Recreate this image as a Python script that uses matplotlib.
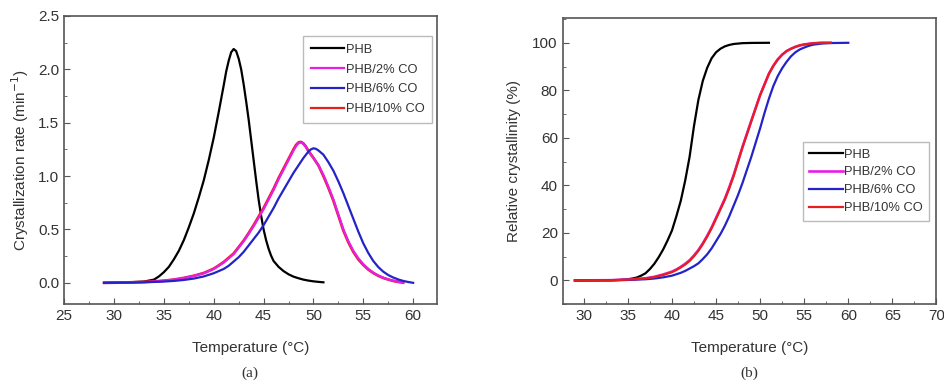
import matplotlib
matplotlib.use("Agg")
import matplotlib.pyplot as plt
from matplotlib.ticker import MultipleLocator

plt.rcParams['font.family'] = ['Liberation Sans', 'DejaVu Sans']

labels = ['PHB', 'PHB/2% CO', 'PHB/6% CO', 'PHB/10% CO']
colors = ['black', '#e61ee6', '#2323c8', '#e61e1e']

# (a) crystallization rate vs temperature
t_phb = [29, 31, 33, 34, 34.5, 35, 35.5, 36, 36.5, 37, 37.5, 38, 38.5, 39, 39.5, 40, 40.5, 41,
         41.25, 41.5, 41.75, 42, 42.25, 42.5, 42.75, 43, 43.25, 43.5, 43.75, 44, 44.25, 44.5,
         44.75, 45, 45.25, 45.5, 45.75, 46, 46.5, 47, 47.5, 48, 48.5, 49, 49.5, 50, 50.5, 51]
r_phb = [0, 0.003, 0.012, 0.03, 0.06, 0.1, 0.15, 0.22, 0.3, 0.4, 0.52, 0.65, 0.8, 0.96, 1.15, 1.36, 1.6, 1.85,
         1.98, 2.08, 2.16, 2.19, 2.17, 2.1, 2.0, 1.86, 1.7, 1.53, 1.34, 1.15, 0.96, 0.78,
         0.63, 0.5, 0.4, 0.32, 0.255, 0.205, 0.15, 0.11, 0.08, 0.058, 0.043, 0.03, 0.021, 0.014, 0.009, 0.005]

t_co2 = [29, 31, 33, 34, 35, 36, 37, 38, 39, 39.5, 40, 40.5, 41, 41.5, 42, 42.5, 43, 43.5, 44, 44.5,
         45, 45.5, 46, 46.5, 47, 47.5, 48, 48.25, 48.5, 48.75, 49, 49.25, 49.5, 50, 50.5, 51, 51.5,
         52, 52.5, 53, 53.5, 54, 54.5, 55, 55.5, 56, 56.5, 57, 57.5, 58, 58.5, 59]
r_co2 = [0, 0.003, 0.008, 0.012, 0.02, 0.03, 0.045, 0.065, 0.09, 0.11, 0.13, 0.16, 0.19, 0.23, 0.27, 0.33, 0.39, 0.46, 0.53, 0.61,
         0.69, 0.78, 0.87, 0.97, 1.06, 1.15, 1.24, 1.28, 1.31, 1.315, 1.3, 1.27, 1.23, 1.17, 1.1, 1.01, 0.9,
         0.78, 0.64, 0.5, 0.39, 0.3, 0.23, 0.175, 0.13, 0.095, 0.068, 0.048, 0.032, 0.02, 0.01, 0.003]

t_co6 = [29, 31, 33, 35, 36, 37, 38, 39, 40, 40.5, 41, 41.5, 42, 42.5, 43, 43.5, 44, 44.5, 45, 45.5,
         46, 46.5, 47, 47.5, 48, 48.5, 49, 49.5, 49.75, 50, 50.25, 50.5, 51, 51.5, 52, 52.5, 53, 53.5,
         54, 54.5, 55, 55.5, 56, 56.5, 57, 57.5, 58, 58.5, 59, 59.5, 60]
r_co6 = [0, 0.002, 0.005, 0.012, 0.018, 0.027, 0.04, 0.06, 0.09, 0.11, 0.13, 0.16, 0.2, 0.24, 0.29, 0.35, 0.41, 0.47, 0.54, 0.62,
         0.7, 0.79, 0.87, 0.95, 1.03, 1.1, 1.17, 1.23, 1.25, 1.26, 1.255, 1.24, 1.2, 1.13, 1.05, 0.95, 0.84, 0.72,
         0.6, 0.48, 0.37, 0.28, 0.205, 0.148, 0.105, 0.073, 0.05, 0.032, 0.018, 0.008, 0.0]

t_co10 = [29, 31, 33, 34, 35, 36, 37, 38, 39, 39.5, 40, 40.5, 41, 41.5, 42, 42.5, 43, 43.5, 44, 44.5,
          45, 45.5, 46, 46.5, 47, 47.5, 48, 48.25, 48.5, 48.75, 49, 49.25, 49.5, 50, 50.5, 51, 51.5,
          52, 52.5, 53, 53.5, 54, 54.5, 55, 55.5, 56, 56.5, 57, 57.5, 58, 58.5, 59]
r_co10 = [0, 0.003, 0.008, 0.013, 0.02, 0.03, 0.046, 0.066, 0.092, 0.112, 0.133, 0.163, 0.195, 0.235, 0.275, 0.335, 0.395, 0.465, 0.54, 0.62,
          0.7, 0.79, 0.88, 0.98, 1.07, 1.16, 1.25, 1.29, 1.315, 1.32, 1.305, 1.275, 1.235, 1.17, 1.1, 1.0, 0.89,
          0.77, 0.63, 0.49, 0.38, 0.29, 0.22, 0.168, 0.125, 0.092, 0.066, 0.046, 0.031, 0.018, 0.009, 0.002]

# (b) relative crystallinity vs temperature
tc_phb = [29, 33, 34, 35, 35.5, 36, 36.5, 37, 37.5, 38, 38.5, 39, 39.5, 40, 40.5, 41, 41.5, 42, 42.5, 43,
          43.5, 44, 44.5, 45, 45.5, 46, 46.5, 47, 48, 49, 51]
x_phb = [0, 0.1, 0.2, 0.5, 0.8, 1.2, 2, 3, 4.8, 7, 9.8, 13, 16.8, 21, 27, 33.5, 42, 52, 65, 76,
         84, 89.5, 93.5, 96, 97.5, 98.5, 99.1, 99.5, 99.85, 99.95, 100]

tc_co2 = [29, 33, 35, 37, 38, 39, 40, 40.5, 41, 41.5, 42, 42.5, 43, 43.5, 44, 44.5, 45, 45.5, 46, 46.5,
          47, 47.5, 48, 48.5, 49, 49.5, 50, 50.5, 51, 51.5, 52, 52.5, 53, 53.5, 54, 54.5, 55, 56, 57, 58]
x_co2 = [0, 0.1, 0.35, 0.9, 1.5, 2.5, 3.7, 4.6, 5.7, 7, 8.5, 10.5, 12.8, 15.6, 18.8, 22.3, 26.3, 30.3, 34.4, 39.2,
         44.4, 50.3, 56.2, 61.7, 67.2, 72.6, 78, 82.5, 87, 90.3, 93, 95, 96.5, 97.5, 98.3, 98.9, 99.3, 99.8, 100, 100]

tc_co6 = [29, 33, 35, 37, 38, 39, 40, 41, 41.5, 42, 42.5, 43, 43.5, 44, 44.5, 45, 45.5, 46, 46.5, 47,
          47.5, 48, 48.5, 49, 49.5, 50, 50.5, 51, 51.5, 52, 52.5, 53, 53.5, 54, 54.5, 55, 55.5, 56, 57, 58, 60]
x_co6 = [0, 0.05, 0.2, 0.5, 0.8, 1.3, 2, 3.2, 4, 5, 6, 7.2, 9, 11, 13.5, 16.5, 19.5, 23, 27, 31.5,
         36, 41, 46.5, 52, 58, 64, 70.5, 76.5, 81.8, 86, 89.3, 92, 94.3, 96, 97.2, 98, 98.7, 99.2, 99.7, 99.9, 100]

tc_co10 = [29, 33, 35, 37, 38, 39, 40, 40.5, 41, 41.5, 42, 42.5, 43, 43.5, 44, 44.5, 45, 45.5, 46, 46.5,
           47, 47.5, 48, 48.5, 49, 49.5, 50, 50.5, 51, 51.5, 52, 52.5, 53, 53.5, 54, 54.5, 55, 56, 57, 58]
x_co10 = [0, 0.1, 0.3, 0.8, 1.4, 2.3, 3.5, 4.4, 5.5, 6.7, 8.2, 10.2, 12.5, 15.3, 18.5, 22, 26, 30, 34, 38.8,
          44, 50, 56, 61.5, 67, 72.5, 78, 82.5, 87, 90.3, 93, 95, 96.5, 97.5, 98.3, 98.9, 99.3, 99.8, 100, 100]

text_c = '#333333'
spine_c = '#555555'

fig = plt.figure(figsize=(9.44, 3.88), dpi=100)
ax1 = fig.add_axes([0.068, 0.216, 0.395, 0.743])
ax2 = fig.add_axes([0.596, 0.216, 0.396, 0.738])


def style(ax):
    for s in ax.spines.values():
        s.set_color(spine_c)
        s.set_linewidth(1.2)
    ax.tick_params(which='both', direction='in', colors=spine_c, labelcolor=text_c,
                   labelsize=11, top=False, right=False)
    ax.tick_params(which='major', length=4)
    ax.tick_params(which='minor', length=2)


# panel (a)
ax1.plot(t_phb, r_phb, color=colors[0], lw=1.6, label=labels[0])
ax1.plot(t_co10, r_co10, color=colors[3], lw=2.0, label='_nolegend_')
ax1.plot(t_co2, r_co2, color=colors[1], lw=1.6, label=labels[1])
ax1.plot(t_co6, r_co6, color=colors[2], lw=1.6, label=labels[2])
ax1.plot([], [], color=colors[3], lw=1.6, label=labels[3])
ax1.set_xlim(25, 62.4)
ax1.set_ylim(-0.2, 2.5)
ax1.xaxis.set_major_locator(MultipleLocator(5))
ax1.xaxis.set_minor_locator(MultipleLocator(2.5))
ax1.yaxis.set_major_locator(MultipleLocator(0.5))
ax1.yaxis.set_minor_locator(MultipleLocator(0.25))
ax1.set_xlabel('Temperature (°C)', fontsize=11, color=text_c, labelpad=13)
ax1.set_ylabel('Crystallization rate (min$^{-1}$)', fontsize=11, color=text_c, labelpad=5)
style(ax1)
leg1 = ax1.legend(loc='upper right', bbox_to_anchor=(0.987, 0.93), borderaxespad=0, fontsize=9.3,
                  frameon=True, fancybox=False, edgecolor='#aaaaaa', handlelength=2.6,
                  handletextpad=0.1, labelspacing=0.6, borderpad=0.6)
for t in leg1.get_texts():
    t.set_color(text_c)

# panel (b)
ax2.plot(tc_phb, x_phb, color=colors[0], lw=1.6, label=labels[0])
ax2.plot(tc_co2, x_co2, color=colors[1], lw=1.9, label=labels[1])
ax2.plot(tc_co6, x_co6, color=colors[2], lw=1.6, label=labels[2])
ax2.plot(tc_co10, x_co10, color=colors[3], lw=1.6, label=labels[3])
ax2.set_xlim(27.6, 70)
ax2.set_ylim(-10, 110.5)
ax2.xaxis.set_major_locator(MultipleLocator(5))
ax2.xaxis.set_minor_locator(MultipleLocator(2.5))
ax2.yaxis.set_major_locator(MultipleLocator(20))
ax2.yaxis.set_minor_locator(MultipleLocator(10))
ax2.set_xlabel('Temperature (°C)', fontsize=11, color=text_c, labelpad=13)
ax2.set_ylabel('Relative crystallinity (%)', fontsize=11, color=text_c, labelpad=8)
style(ax2)
leg2 = ax2.legend(loc='upper right', bbox_to_anchor=(0.981, 0.566), borderaxespad=0, fontsize=9.3,
                  frameon=True, fancybox=False, edgecolor='#aaaaaa', handlelength=2.6,
                  handletextpad=0.1, labelspacing=0.45, borderpad=0.5)
for t in leg2.get_texts():
    t.set_color(text_c)

fig.text(0.265, 0.03, '(a)', family='Liberation Serif', fontsize=11, color=text_c, ha='center')
fig.text(0.794, 0.03, '(b)', family='Liberation Serif', fontsize=11, color=text_c, ha='center')

fig.savefig('out.png', dpi=100)
